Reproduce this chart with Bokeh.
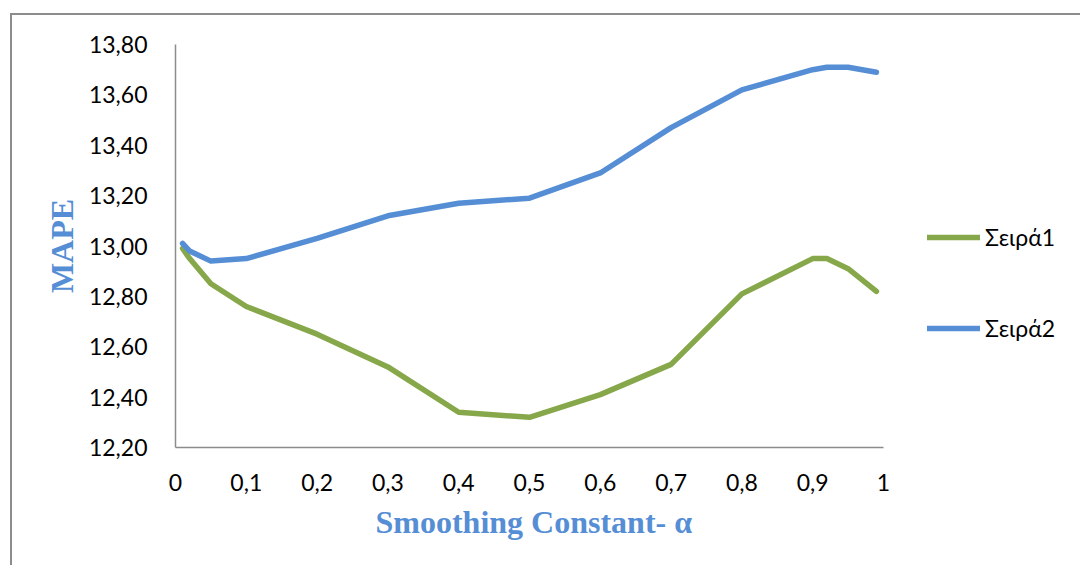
from bokeh.plotting import figure
from bokeh.models import Range1d, FixedTicker, CustomJSTickFormatter, Legend, LegendItem, Title
from bokeh.embed import file_html
from bokeh.resources import INLINE

# Data
alpha = [0.01, 0.02, 0.05, 0.1, 0.2, 0.3, 0.4, 0.5, 0.6, 0.7, 0.8, 0.9, 0.92, 0.95, 0.99]
series1 = [12.99, 12.95, 12.85, 12.76, 12.65, 12.52, 12.34, 12.32, 12.41, 12.53, 12.81, 12.95, 12.95, 12.91, 12.82]
series2 = [13.01, 12.98, 12.94, 12.95, 13.03, 13.12, 13.17, 13.19, 13.29, 13.47, 13.62, 13.70, 13.71, 13.71, 13.69]
series_names = ["Σειρά1", "Σειρά2"]
x_ticks = [0, 0.1, 0.2, 0.3, 0.4, 0.5, 0.6, 0.7, 0.8, 0.9, 1]
y_ticks = [12.2, 12.4, 12.6, 12.8, 13.0, 13.2, 13.4, 13.6, 13.8]
x_title = "Smoothing Constant- α"
y_title = "MAPE"

GREEN = "#87A84A"
BLUE = "#558ED5"
AXIS = "#8C8C8C"
TICK_FONT = "Lato"

AXIS_PX = 708      # pixel length of the 0..1 x axis
FRAME_W = 900      # frame extends to the right to host the legend
p = figure(frame_width=FRAME_W, frame_height=403, output_backend="svg", toolbar_location=None,
           x_range=Range1d(0, FRAME_W / AXIS_PX), y_range=Range1d(12.2, 13.8),
           min_border_left=163, min_border_right=5, min_border_top=29, min_border_bottom=118)
p.styles = {"border-top": "2px solid #8C8C8C", "border-left": "2px solid #8C8C8C",
            "margin-left": "10px", "margin-top": "13px"}
p.outline_line_color = None
p.background_fill_color = "white"
p.border_fill_color = "white"
p.grid.visible = False

r1 = p.line(alpha, series1, line_color=GREEN, line_width=5.5, line_join="round", line_cap="round")
r2 = p.line(alpha, series2, line_color=BLUE, line_width=5.5, line_join="round", line_cap="round")

for ax in (p.xaxis[0], p.yaxis[0]):
    ax.axis_line_color = AXIS
    ax.axis_line_width = 1.5
    ax.major_tick_line_color = None
    ax.minor_tick_line_color = None
    ax.major_label_text_font = TICK_FONT
    ax.major_label_text_font_size = "23px"
    ax.major_label_text_color = "black"
    ax.axis_label_text_font = "Liberation Serif"
    ax.axis_label_text_font_style = "bold"
    ax.axis_label_text_font_size = "32px"
    ax.axis_label_text_color = BLUE

p.xaxis.bounds = (0, 1)
p.xaxis.ticker = FixedTicker(ticks=x_ticks)
p.yaxis.ticker = FixedTicker(ticks=y_ticks)
p.xaxis.formatter = CustomJSTickFormatter(code="return (Math.round(tick*10)/10).toString().replace('.', ',');")
p.yaxis.formatter = CustomJSTickFormatter(code="return tick.toFixed(2).replace('.', ',');")
p.xaxis.major_label_standoff = 20
p.yaxis.major_label_standoff = 22
p.yaxis.axis_label = y_title
p.yaxis.axis_label_standoff = 6

# x-axis title, centred under the 0..1 axis (not the wider frame)
xt = Title(text=x_title, align="left", offset=200, text_font="Liberation Serif",
           text_font_style="bold", text_font_size="32px", text_color=BLUE, standoff=16)
p.add_layout(xt, "below")

legend = Legend(items=[LegendItem(label=series_names[0], renderers=[r1]),
                       LegendItem(label=series_names[1], renderers=[r2])],
                location=(752, 105), orientation="vertical")
legend.glyph_width = 53
legend.glyph_height = 24
legend.label_height = 24
legend.label_standoff = 5
legend.spacing = 63
legend.padding = 0
legend.margin = 0
legend.border_line_color = None
legend.background_fill_alpha = 0
legend.label_text_font = TICK_FONT
legend.label_text_font_size = "23px"
legend.label_text_color = "black"
p.add_layout(legend, "center")

open("out.html", "w").write(file_html(p, INLINE))
